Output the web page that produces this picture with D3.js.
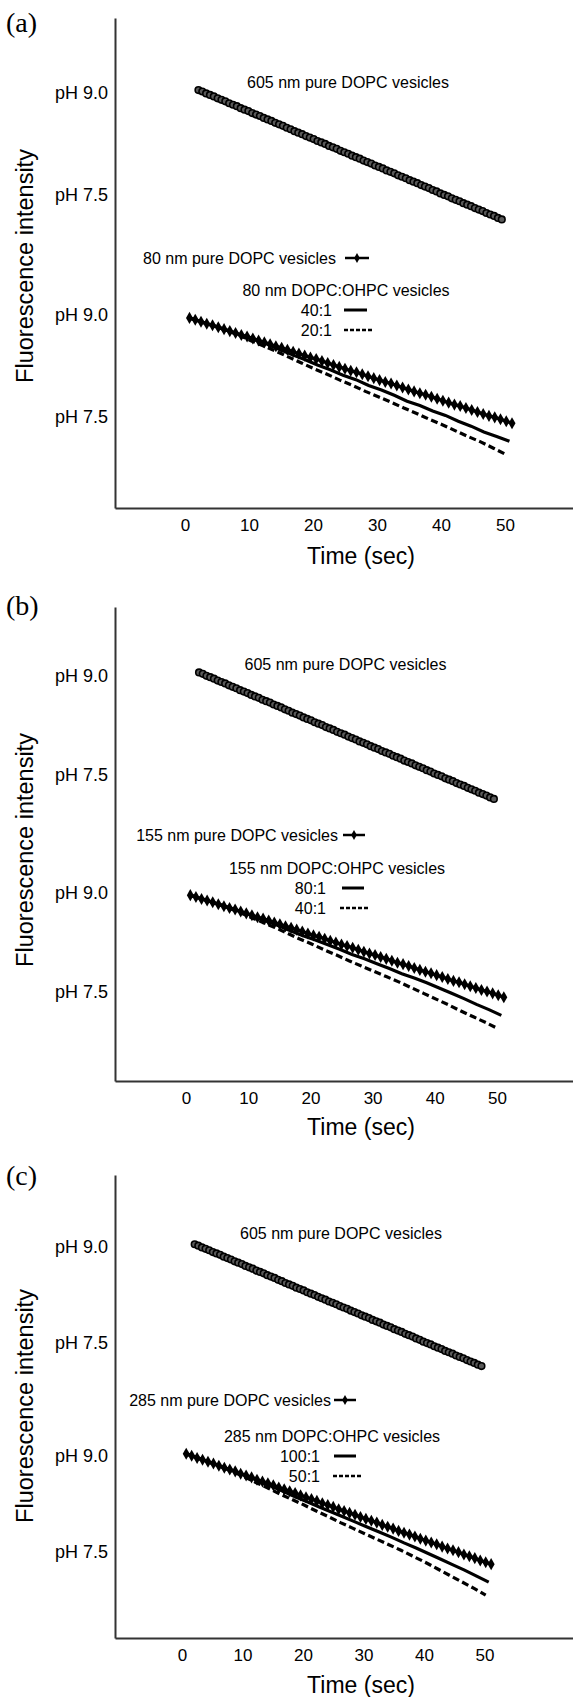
<!DOCTYPE html>
<html><head><meta charset="utf-8">
<script src="https://cdn.jsdelivr.net/npm/d3@7"></script>
<style>
body{margin:0;background:#fff;}
svg{display:block;}
text{font-family:"Liberation Sans",Arial,sans-serif;fill:#000;}
</style>
</head><body>
<svg id="chart" width="573" height="1697"></svg>
<script>
// ---------- text / ticks ----------
const panelLetters = ["(a)", "(b)", "(c)"];
const xTickValues = [0, 10, 20, 30, 40, 50];
const yTickValues = [84.7, 63.9, 39.4, 18.6];
const yTickLabels = ["pH 9.0", "pH 7.5", "pH 9.0", "pH 7.5"];
const xTitle = "Time (sec)";
const yTitle = "Fluorescence intensity";
const label605 = "605 nm pure DOPC vesicles";
const pureLabels = ["80 nm pure DOPC vesicles", "155 nm pure DOPC vesicles", "285 nm pure DOPC vesicles"];
const mixTitles = ["80 nm DOPC:OHPC vesicles", "155 nm DOPC:OHPC vesicles", "285 nm DOPC:OHPC vesicles"];
const solidRatios = ["40:1", "80:1", "100:1"];
const dashedRatios = ["20:1", "40:1", "50:1"];

// ---------- data ----------
const t605 = [2.1,2.7,3.3,3.9,4.5,5.1,5.7,6.3,6.9,7.5,8.1,8.7,9.3,9.9,10.5,11.1,11.7,12.3,12.9,13.5,
  14.1,14.7,15.3,15.9,16.5,17.1,17.7,18.3,18.9,19.5,20.1,20.7,21.3,21.9,22.5,23.1,23.7,24.3,24.9,25.5,
  26.1,26.7,27.3,27.9,28.5,29.1,29.7,30.3,30.9,31.5,32.1,32.7,33.3,33.9,34.5,35.1,35.7,36.3,36.9,37.5,
  38.1,38.7,39.3,39.9,40.5,41.1,41.7,42.3,42.9,43.5,44.1,44.7,45.3,45.9,46.5,47.1,47.7,48.3,48.9,49.5];
const pure605 = [85.3,85.0,84.6,84.3,84.0,83.6,83.3,83.0,82.6,82.3,82.0,81.6,81.3,81.0,80.6,80.3,80.0,79.6,79.3,79.0,
  78.6,78.3,78.0,77.6,77.3,76.9,76.6,76.3,75.9,75.6,75.3,74.9,74.6,74.3,73.9,73.6,73.3,72.9,72.6,72.3,
  71.9,71.6,71.3,70.9,70.6,70.3,69.9,69.6,69.3,68.9,68.6,68.3,67.9,67.6,67.3,66.9,66.6,66.3,65.9,65.6,
  65.3,64.9,64.6,64.2,63.9,63.6,63.2,62.9,62.6,62.2,61.9,61.6,61.2,60.9,60.6,60.2,59.9,59.6,59.2,58.9];

const tPure = [0.7,1.6,2.5,3.4,4.3,5.2,6.1,7.0,7.9,8.8,9.7,10.6,11.5,12.4,13.3,14.2,15.1,16.0,16.9,17.8,
  18.7,19.6,20.5,21.4,22.3,23.2,24.1,25.0,25.9,26.8,27.7,28.6,29.5,30.4,31.3,32.2,33.1,34.0,34.9,35.8,
  36.7,37.6,38.5,39.4,40.3,41.2,42.1,43.0,43.9,44.8,45.7,46.6,47.5,48.4,49.3,50.2,51.1];
const pureA = [38.8,38.4,38.0,37.6,37.3,36.9,36.5,36.1,35.7,35.3,35.0,34.6,34.2,33.8,33.4,33.0,32.7,32.3,31.9,31.5,
  31.1,30.7,30.4,30.0,29.6,29.2,28.8,28.4,28.0,27.7,27.3,26.9,26.5,26.1,25.7,25.4,25.0,24.6,24.2,23.8,
  23.4,23.1,22.7,22.3,21.9,21.5,21.1,20.8,20.4,20.0,19.6,19.2,18.8,18.5,18.1,17.7,17.3];
const pureB = [38.8,38.4,38.0,37.7,37.3,36.9,36.5,36.1,35.8,35.4,35.0,34.6,34.2,33.9,33.5,33.1,32.7,32.3,32.0,31.6,
  31.2,30.8,30.4,30.1,29.7,29.3,28.9,28.5,28.2,27.8,27.4,27.0,26.6,26.3,25.9,25.5,25.1,24.7,24.4,24.0,
  23.6,23.2,22.8,22.5,22.1,21.7,21.3,20.9,20.6,20.2,19.8,19.4,19.0,18.7,18.3,17.9,17.5];
const pureC = [39.9,39.5,39.0,38.6,38.2,37.8,37.3,36.9,36.5,36.1,35.6,35.2,34.8,34.3,33.9,33.5,33.1,32.6,32.2,31.8,
  31.4,30.9,30.5,30.1,29.7,29.2,28.8,28.4,27.9,27.5,27.1,26.7,26.2,25.8,25.4,25.0,24.5,24.1,23.7,23.2,
  22.8,22.4,22.0,21.5,21.1,20.7,20.3,19.8,19.4,19.0,18.6,18.1,17.7,17.3,16.8,16.4,16.0];

const tSolid = [0.7,2.7,4.7,6.7,8.7,10.7,12.7,14.7,16.7,18.7,20.7,22.7,24.7,26.7,28.7,30.7,32.7,34.7,36.7,38.7,
  40.7,42.7,44.7,46.7,48.7,50.7];
const solidA = [38.8,37.9,37.1,36.2,35.3,34.4,33.5,32.4,31.3,30.3,29.2,28.2,27.1,26.2,25.0,24.1,23.0,21.8,20.9,19.8,
  18.9,17.7,16.7,15.5,14.6,13.6];
const solidB = [38.8,38.0,37.1,36.3,35.4,34.5,33.5,32.5,31.4,30.4,29.5,28.5,27.5,26.4,25.5,24.5,23.5,22.4,21.5,20.5,
  19.4,18.3,17.2,16.0,14.9,13.7];
const solidC = [39.9,39.0,38.0,37.0,36.1,35.1,34.0,32.9,31.8,30.6,29.5,28.4,27.3,26.2,25.1,24.0,22.9,21.8,20.6,19.5,
  18.3,17.1,15.9,14.7,13.4,12.1];

const tDashed = [0.7,2.2,4.2,6.2,8.2,10.2,12.2,14.2,16.2,18.2,20.2,22.2,24.2,26.2,28.2,30.2,32.2,34.2,36.2,38.2,
  40.2,42.2,44.2,46.2,48.2,50.2];
const dashedA = [38.8,38.2,37.3,36.4,35.4,34.2,33.1,32.0,30.8,29.6,28.4,27.3,26.1,25.0,23.8,22.7,21.6,20.4,19.3,18.1,
  17.0,15.8,14.6,13.5,12.2,10.9];
const dashedB = [38.8,38.2,37.3,36.5,35.4,34.3,33.2,32.1,30.9,29.7,28.6,27.4,26.3,25.1,24.0,22.9,21.8,20.7,19.5,18.3,
  17.1,15.9,14.6,13.4,12.2,10.9];
const dashedC = [39.9,39.2,38.2,37.3,36.1,35.0,33.7,32.5,31.2,30.0,28.8,27.5,26.3,25.0,23.8,22.6,21.4,20.2,19.0,17.7,
  16.4,15.0,13.6,12.2,10.8,9.3];

const pureSeries = [pureA, pureB, pureC];
const solidSeries = [solidA, solidB, solidC];
const dashedSeries = [dashedA, dashedB, dashedC];

// ---------- layout ----------
const layout = [
  {top:18, bottom:508, yMax:100, xMin:-10.94, xMax:60.63, letterY:32, yTitleY:266, xTitleY:556,
   l605:{x:348,y:82}, pure:{x:336,y:258,l0:345,l1:369}, mix:{x:346,y:290},
   s:{x:332,y:310,l0:344,l1:367}, d:{x:332,y:330,l0:344,l1:373}},
  {top:607, bottom:1081, yMax:98.96, xMin:-11.41, xMax:62.22, letterY:615, yTitleY:850, xTitleY:1127,
   l605:{x:345.5,y:664}, pure:{x:338,y:835,l0:343,l1:365}, mix:{x:337,y:868},
   s:{x:326,y:888,l0:342,l1:364}, d:{x:326,y:908,l0:340,l1:370}},
  {top:1175, bottom:1638, yMax:100.3, xMin:-11.07, xMax:64.63, letterY:1185, yTitleY:1406, xTitleY:1685,
   l605:{x:341,y:1233}, pure:{x:331,y:1400,l0:334,l1:356}, mix:{x:332,y:1436},
   s:{x:320,y:1456,l0:334,l1:356}, d:{x:320,y:1476,l0:333,l1:361}}
];
const axisLeftX = 115, axisRightX = 573;

const svg = d3.select("#chart");
const zip = (t, v) => t.map((d, i) => [d, v[i]]);

layout.forEach((L, p) => {
  const g = svg.append("g");
  const x = d3.scaleLinear().domain([L.xMin, L.xMax]).range([axisLeftX, axisRightX]);
  const y = d3.scaleLinear().domain([0, L.yMax]).range([L.bottom, L.top]);

  // panel letter
  g.append("text").attr("x", 6).attr("y", L.letterY)
    .style("font-family", "'Liberation Serif','Times New Roman',serif")
    .style("font-size", "28px").style("fill", "#000").text(panelLetters[p]);

  // axes
  const xAxis = d3.axisBottom(x).tickValues(xTickValues).tickSize(0).tickSizeOuter(0).tickPadding(11).tickFormat(d3.format("d"));
  const gx = g.append("g").attr("transform", `translate(0,${L.bottom})`).call(xAxis);
  gx.select(".domain").attr("stroke", "#333").attr("stroke-width", 2);
  gx.selectAll("text").style("font-size", "17px").style("font-family", "'Liberation Sans',Arial,sans-serif").attr("fill", "#000");

  const yAxis = d3.axisLeft(y).tickValues(yTickValues).tickSize(0).tickSizeOuter(0).tickPadding(7)
    .tickFormat((d, i) => yTickLabels[i]);
  const gy = g.append("g").attr("transform", `translate(${axisLeftX},0)`).call(yAxis);
  gy.select(".domain").attr("stroke", "#333").attr("stroke-width", 2);
  gy.selectAll("text").style("font-size", "18px").style("font-family", "'Liberation Sans',Arial,sans-serif").attr("fill", "#000");

  // axis titles
  g.append("text").attr("x", 361).attr("y", L.xTitleY).attr("dy", "0.35em")
    .attr("text-anchor", "middle").style("font-size", "23px").text(xTitle);
  g.append("text").attr("transform", `translate(25,${L.yTitleY}) rotate(-90)`).attr("dy", "0.35em")
    .attr("text-anchor", "middle").style("font-size", "23.5px").text(yTitle);

  const line = d3.line().x(d => x(d[0])).y(d => y(d[1]));

  // 605 nm series (open circles)
  const d605 = zip(t605, pure605);
  g.append("path").datum(d605).attr("d", line).attr("fill", "none").attr("stroke", "#000").attr("stroke-width", 2);
  g.append("g").selectAll("circle").data(d605).join("circle")
    .attr("cx", d => x(d[0])).attr("cy", d => y(d[1])).attr("r", 3.3)
    .attr("fill", "#5a5a5a").attr("stroke", "#000").attr("stroke-width", 1.6);

  // mixed vesicles: dashed + solid
  g.append("path").datum(zip(tDashed, dashedSeries[p])).attr("d", line).attr("fill", "none")
    .attr("stroke", "#000").attr("stroke-width", 3.2).attr("stroke-dasharray", "7,3.5");
  g.append("path").datum(zip(tSolid, solidSeries[p])).attr("d", line).attr("fill", "none")
    .attr("stroke", "#000").attr("stroke-width", 3.2);

  // pure small vesicles (diamonds)
  const dPure = zip(tPure, pureSeries[p]);
  g.append("path").datum(dPure).attr("d", line).attr("fill", "none").attr("stroke", "#000").attr("stroke-width", 3.2);
  const diamond = d3.symbol().type(d3.symbolDiamond).size(42);
  g.append("g").selectAll("path").data(dPure).join("path")
    .attr("transform", d => `translate(${x(d[0])},${y(d[1])})`).attr("d", diamond).attr("fill", "#000");

  // labels / legends
  const fs = "16px";
  g.append("text").attr("x", L.l605.x).attr("y", L.l605.y).attr("dy", "0.35em").attr("text-anchor", "middle")
    .style("font-size", fs).text(label605);

  g.append("text").attr("x", L.pure.x).attr("y", L.pure.y).attr("dy", "0.35em").attr("text-anchor", "end")
    .style("font-size", fs).text(pureLabels[p]);
  g.append("line").attr("x1", L.pure.l0).attr("x2", L.pure.l1).attr("y1", L.pure.y).attr("y2", L.pure.y)
    .attr("stroke", "#000").attr("stroke-width", 2.5);
  g.append("path").attr("transform", `translate(${(L.pure.l0 + L.pure.l1) / 2},${L.pure.y})`)
    .attr("d", d3.symbol().type(d3.symbolDiamond).size(28)).attr("fill", "#000");

  g.append("text").attr("x", L.mix.x).attr("y", L.mix.y).attr("dy", "0.35em").attr("text-anchor", "middle")
    .style("font-size", fs).text(mixTitles[p]);

  g.append("text").attr("x", L.s.x).attr("y", L.s.y).attr("dy", "0.35em").attr("text-anchor", "end")
    .style("font-size", fs).text(solidRatios[p]);
  g.append("line").attr("x1", L.s.l0).attr("x2", L.s.l1).attr("y1", L.s.y).attr("y2", L.s.y)
    .attr("stroke", "#000").attr("stroke-width", 3);

  g.append("text").attr("x", L.d.x).attr("y", L.d.y).attr("dy", "0.35em").attr("text-anchor", "end")
    .style("font-size", fs).text(dashedRatios[p]);
  g.append("line").attr("x1", L.d.l0).attr("x2", L.d.l1).attr("y1", L.d.y).attr("y2", L.d.y)
    .attr("stroke", "#000").attr("stroke-width", 2.5).attr("stroke-dasharray", "4,2");
});
</script>
</body></html>
